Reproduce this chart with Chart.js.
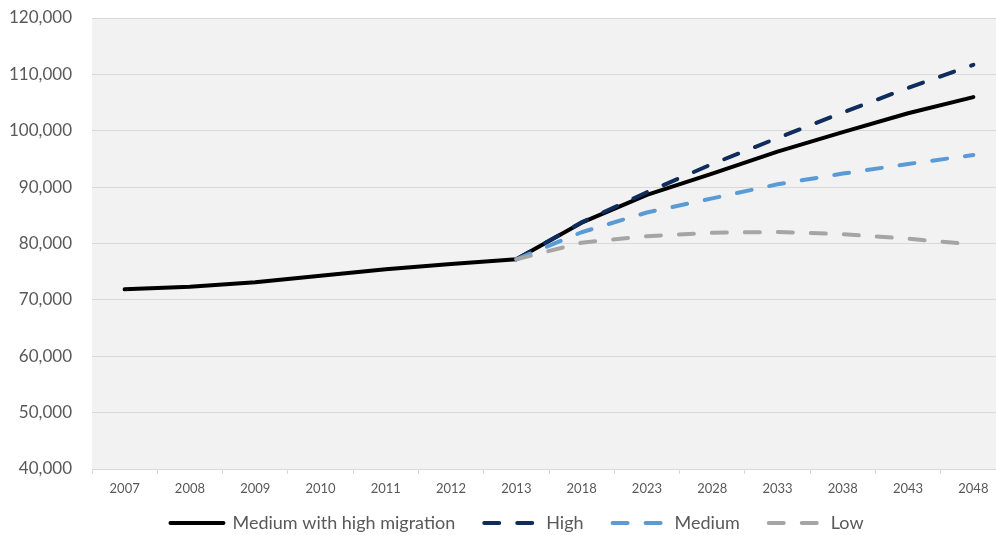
<!DOCTYPE html>
<html>
<head>
<meta charset="utf-8">
<title>Population projections</title>
<script src="https://cdn.jsdelivr.net/npm/chart.js@4.4.1/dist/chart.umd.min.js"></script>
<style>
  html, body { margin: 0; padding: 0; background: #fff; overflow: hidden; }
  #wrap { width: 1035px; height: 535px; }
</style>
</head>
<body>
<div id="wrap"><canvas id="projChart" width="1035" height="535"></canvas></div>
<script>
// Years on the category axis (annual to 2013, then five-yearly)
const years = ['2007', '2008', '2009', '2010', '2011', '2012', '2013',
  '2018', '2023', '2028', '2033', '2038', '2043', '2048'];

// Observed values to 2013, continued by the medium-with-high-migration projection
const mediumHighMigration = [71870, 72330, 73110, 74290, 75420, 76360, 77190,
  83700, 88630, 92400, 96300, 99750, 103100, 105970];

// Projection variants, all starting from the 2013 value
const high = [null, null, null, null, null, null, 77190,
  83750, 89100, 94100, 98700, 103230, 107600, 111700];
const medium = [null, null, null, null, null, null, 77190,
  82000, 85500, 88000, 90500, 92400, 94100, 95700];
const low = [null, null, null, null, null, null, 77190,
  80150, 81300, 81900, 82050, 81650, 80850, 79850];

const yTicks = { min: 40000, max: 120000, step: 10000 };

const textColor = '#595959';
const gridColor = '#d9d9d9';
const fontFamily = 'Lato, "Open Sans", sans-serif';
const dashPattern = [15, 18];

// grey plot background behind the gridlines
const plotBackground = {
  id: 'plotBackground',
  beforeDraw(chart) {
    const { ctx, chartArea } = chart;
    ctx.save();
    ctx.fillStyle = '#f2f2f2';
    ctx.fillRect(chartArea.left, chartArea.top, chartArea.right - chartArea.left, chartArea.bottom - chartArea.top);
    ctx.restore();
  }
};

// x axis is kept short so the legend sits close; grow its box after layout
// so the year labels aren't clipped. Legend is nudged right a little.
const layoutTweaks = {
  id: 'layoutTweaks',
  afterLayout(chart) {
    chart.scales.x.bottom += 16;
    chart.legend.left += 28;
  }
};

function lineSeries(label, data, color, dashed, order) {
  return {
    label,
    data,
    borderColor: color,
    backgroundColor: color,
    borderWidth: 4,
    borderDash: dashed ? dashPattern : [],
    borderCapStyle: 'round',
    borderJoinStyle: 'round',
    pointRadius: 0,
    tension: 0,
    spanGaps: false,
    order
  };
}

// point-style legend items don't pick up the line dash, so copy it over
function legendLabels(chart) {
  const items = Chart.defaults.plugins.legend.labels.generateLabels(chart);
  items.forEach(item => {
    const ds = chart.data.datasets[item.datasetIndex];
    item.lineDash = ds.borderDash;
    item.lineCap = 'round';
    item.lineWidth = 4;
  });
  return items;
}

new Chart(document.getElementById('projChart'), {
  type: 'line',
  data: {
    labels: years,
    datasets: [
      lineSeries('Medium with high migration', mediumHighMigration, '#000000', false, 3),
      lineSeries('High', high, '#0f2d5c', true, 2),
      lineSeries('Medium', medium, '#5b9bd5', true, 1),
      lineSeries('Low', low, '#a5a5a5', true, 0)
    ]
  },
  options: {
    responsive: false,
    animation: false,
    layout: { padding: { top: 18, right: 29, bottom: 0, left: 0 } },
    plugins: {
      tooltip: { enabled: false },
      legend: {
        position: 'bottom',
        maxHeight: 50,
        labels: {
          usePointStyle: true,
          pointStyle: 'line',
          pointStyleWidth: 53,
          padding: 29,
          color: textColor,
          font: { family: fontFamily, size: 18 },
          generateLabels: legendLabels,
          sort: (a, b) => a.datasetIndex - b.datasetIndex
        }
      }
    },
    scales: {
      x: {
        offset: true,
        grid: {
          offset: true,
          drawOnChartArea: false,
          drawTicks: true,
          tickLength: 5,
          color: gridColor
        },
        border: { color: gridColor },
        ticks: {
          color: textColor,
          padding: 7,
          maxRotation: 0,
          autoSkip: false,
          font: { family: fontFamily, size: 13 }
        },
        afterFit(scale) { scale.height = 16; }
      },
      y: {
        min: yTicks.min,
        max: yTicks.max,
        border: { display: false },
        // invisible tick marks give the gap between labels and plot
        grid: { color: gridColor, drawTicks: true, tickLength: 20, tickColor: 'rgba(0,0,0,0)' },
        ticks: {
          stepSize: yTicks.step,
          color: textColor,
          padding: 0,
          font: { family: fontFamily, size: 17 },
          callback: v => v.toLocaleString('en-US')
        },
        afterFit(scale) { scale.width = 92; }
      }
    }
  },
  plugins: [plotBackground, layoutTweaks]
});
</script>
</body>
</html>
